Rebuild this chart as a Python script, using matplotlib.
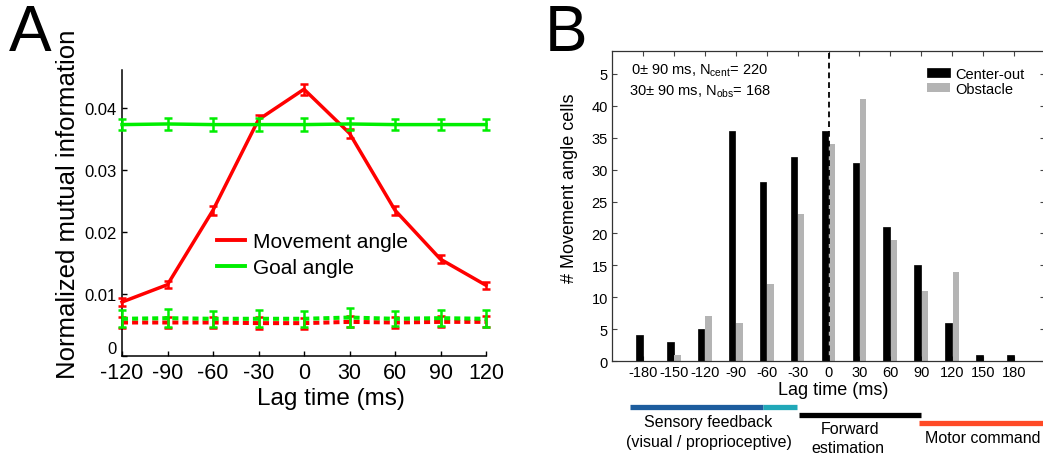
import matplotlib
matplotlib.use("Agg")
import matplotlib.pyplot as plt
from matplotlib.lines import Line2D
import numpy as np

plt.rcParams['font.family'] = ['Liberation Sans', 'DejaVu Sans']
plt.rcParams['mathtext.fontset'] = 'custom'
plt.rcParams['mathtext.rm'] = 'Liberation Sans'
plt.rcParams['mathtext.it'] = 'Liberation Sans:italic'

# ---------------- data: panel A ----------------
lags_a = [-120, -90, -60, -30, 0, 30, 60, 90, 120]
move_mi = [0.0087, 0.0115, 0.0235, 0.0381, 0.0430, 0.0359, 0.0235, 0.0156, 0.0114]
move_err = [0.0007, 0.0006, 0.0007, 0.0007, 0.0009, 0.0007, 0.0007, 0.0006, 0.0006]
goal_mi = [0.0373, 0.0374, 0.0373, 0.0373, 0.0373, 0.0374, 0.0373, 0.0373, 0.0373]
goal_err = [0.0009, 0.0009, 0.0010, 0.0010, 0.0011, 0.0010, 0.0009, 0.0009, 0.0009]
move_shuf = [0.0054, 0.0054, 0.0054, 0.0053, 0.0053, 0.0055, 0.0054, 0.0055, 0.0055]
move_shuf_err = [0.0009, 0.0009, 0.0009, 0.0010, 0.0009, 0.0009, 0.0009, 0.0009, 0.0009]
goal_shuf = [0.0060, 0.0061, 0.0060, 0.0060, 0.0060, 0.0062, 0.0060, 0.0061, 0.0060]
goal_shuf_err = [0.0014, 0.0015, 0.0013, 0.0014, 0.0013, 0.0015, 0.0012, 0.0013, 0.0014]
a_yticks = [0, 0.01, 0.02, 0.03, 0.04]
a_yticklabels = ['0', '0.01', '0.02', '0.03', '0.04']
a_xticklabels = ['-120', '-90', '-60', '-30', '0', '30', '60', '90', '120']

# ---------------- data: panel B ----------------
lags_b = [-180, -150, -120, -90, -60, -30, 0, 30, 60, 90, 120, 150, 180]
center_out = [4, 3, 5, 36, 28, 32, 36, 31, 21, 15, 6, 1, 1]
obstacle = [0, 1, 7, 6, 12, 23, 34, 41, 19, 11, 14, 0, 0]
b_yticks = [0, 5, 10, 15, 20, 25, 30, 35, 40, 45]
b_yticklabels = ['0', '5', '10', '15', '20', '25', '30', '35', '40', '5']

W, H = 1043, 456
fig = plt.figure(figsize=(W / 100, H / 100), dpi=100)


def fx(x):
    return x / W


def fy(y):
    return 1 - y / H


RED = '#ff0000'
GREEN = '#00ee00'

# ================= Panel A =================
axA = fig.add_axes([fx(122), fy(357), (486 - 122) / W, (357 - 71) / H])
dash = (1.5, 1.0)
axA.errorbar(lags_a, move_shuf, yerr=move_shuf_err, color=RED, lw=2.9,
             dashes=dash, elinewidth=1.8, capsize=2.6, capthick=1.8, clip_on=False, zorder=2)
axA.errorbar(lags_a, goal_shuf, yerr=goal_shuf_err, color=GREEN, lw=2.9,
             dashes=dash, elinewidth=1.8, capsize=2.6, capthick=1.8, clip_on=False, zorder=3)
axA.errorbar(lags_a, move_mi, yerr=move_err, color=RED, lw=2.5,
             elinewidth=1.8, capsize=2.6, capthick=1.8, clip_on=False, zorder=4,
             label='Movement angle')
axA.errorbar(lags_a, goal_mi, yerr=goal_err, color=GREEN, lw=2.5,
             elinewidth=1.8, capsize=2.6, capthick=1.8, clip_on=False, zorder=5,
             label='Goal angle')
axA.set_xlim(-120, 120)
axA.set_ylim(0, 0.0461)
axA.set_xticks(lags_a)
axA.set_xticklabels(a_xticklabels, fontsize=15.5)
axA.set_yticks(a_yticks)
axA.set_yticklabels(a_yticklabels, fontsize=12)
axA.get_yticklabels()[0].set_va('bottom')
for s in ['top', 'right']:
    axA.spines[s].set_visible(False)
for s in ['left', 'bottom']:
    axA.spines[s].set_linewidth(1.1)
axA.tick_params(direction='in', length=3.5, width=1.0, pad=4)
axA.set_xlabel('Lag time (ms)', fontsize=17.5, va='center')
axA.xaxis.set_label_coords(fx(331), fy(399), transform=fig.transFigure)
axA.set_ylabel('Normalized mutual information', fontsize=18.5, va='center')
axA.yaxis.set_label_coords(fx(68), fy(204), transform=fig.transFigure)
handles = [Line2D([], [], color=RED, lw=2.8), Line2D([], [], color=GREEN, lw=2.8)]
axA.legend(handles, ['Movement angle', 'Goal angle'], loc='upper left',
           bbox_to_anchor=(fx(217), fy(233)), bbox_transform=fig.transFigure,
           frameon=False, fontsize=15, handlelength=1.35, handletextpad=0.4,
           borderpad=0, borderaxespad=0, labelspacing=0.35)
fig.text(fx(30), fy(34), 'A', fontsize=46, ha='center', va='center')

# ================= Panel B =================
axB = fig.add_axes([fx(612), fy(362), (1045 - 612) / W, (362 - 52) / H])
x = np.array(lags_b, dtype=float)
off, bw = 3.5, 6.4
axB.bar(x - off, center_out, width=bw, color='black', edgecolor='black', lw=0.5,
        label='Center-out', zorder=2)
axB.bar(x + off, obstacle, width=bw, color='#b4b4b4', lw=0, label='Obstacle', zorder=2)
axB.axvline(0, color='black', lw=1.3, dashes=(3.2, 2.2), zorder=3)
axB.set_xlim(-210, 210)
axB.set_ylim(0, 48.6)
axB.set_xticks(lags_b)
axB.set_xticklabels([str(v) for v in lags_b], fontsize=10.5)
axB.set_yticks(b_yticks)
axB.set_yticklabels(b_yticklabels, fontsize=10.5)
axB.tick_params(direction='in', length=3.5, width=0.8, top=True, right=True, pad=3,
                color='#444444')
for s in axB.spines.values():
    s.set_linewidth(0.9)
    s.set_color('#333333')
axB.set_xlabel('Lag time (ms)', fontsize=13, va='center')
axB.xaxis.set_label_coords(fx(833), fy(391), transform=fig.transFigure)
axB.set_ylabel('# Movement angle cells', fontsize=13, va='center')
axB.yaxis.set_label_coords(fx(569), fy(188), transform=fig.transFigure)
axB.legend(loc='upper left', bbox_to_anchor=(fx(927), fy(68)), bbox_transform=fig.transFigure,
           frameon=False, fontsize=10.5, handlelength=1.6, handleheight=0.55,
           handletextpad=0.35, borderpad=0, borderaxespad=0, labelspacing=0.05)
fig.text(fx(631), fy(71), '0± 90 ms, $\\mathrm{N_{cent}}$= 220', fontsize=10.5,
         ha='left', va='center',
         bbox=dict(facecolor='white', edgecolor='none', pad=1.0), zorder=5)
fig.text(fx(629), fy(92), '30± 90 ms, $\\mathrm{N_{obs}}$= 168', fontsize=10.5,
         ha='left', va='center', zorder=5)
fig.text(fx(566), fy(34), 'B', fontsize=46, ha='center', va='center')

# --------- phase bars under panel B ---------
seg_lw = 3.8
fig.add_artist(Line2D([fx(630), fx(763)], [fy(407.7)] * 2, color='#1d5d9e', lw=seg_lw,
                      solid_capstyle='butt'))
fig.add_artist(Line2D([fx(763), fx(797)], [fy(407.7)] * 2, color='#21a8b8', lw=seg_lw,
                      solid_capstyle='butt'))
fig.add_artist(Line2D([fx(799), fx(921)], [fy(415.7)] * 2, color='black', lw=seg_lw,
                      solid_capstyle='butt'))
fig.add_artist(Line2D([fx(919), fx(1045)], [fy(424.3)] * 2, color='#ff4a26', lw=seg_lw,
                      solid_capstyle='butt'))
lab_fs = 11.5
fig.text(fx(708), fy(423), 'Sensory feedback', fontsize=lab_fs, ha='center', va='center')
fig.text(fx(709), fy(443), '(visual / proprioceptive)', fontsize=lab_fs, ha='center', va='center')
fig.text(fx(850), fy(430), 'Forward', fontsize=lab_fs, ha='center', va='center')
fig.text(fx(848), fy(449), 'estimation', fontsize=lab_fs, ha='center', va='center')
fig.text(fx(983), fy(439), 'Motor command', fontsize=lab_fs, ha='center', va='center')

fig.savefig('out.png', dpi=100)
